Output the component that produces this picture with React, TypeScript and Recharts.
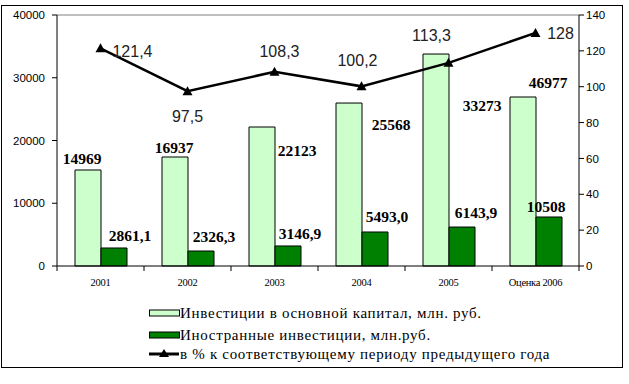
import React from "react";
import {
  Bar,
  ComposedChart,
  LabelList,
  Legend,
  Line,
  ReferenceLine,
  XAxis,
  YAxis,
} from "recharts";

const years = ["2001", "2002", "2003", "2004", "2005", "Оценка 2006"];

// bar heights as drawn in the picture
const capital = [15300, 17370, 22150, 25970, 33780, 26930];
const capitalLabels = ["14969", "16937", "22123", "25568", "33273", "46977"];

const foreign = [2870, 2390, 3190, 5420, 6210, 7810];
const foreignLabels = ["2861,1", "2326,3", "3146,9", "5493,0", "6143,9", "10508"];

const percent = [121.4, 97.5, 108.3, 100.2, 113.3, 130];
const percentLabels = ["121,4", "97,5", "108,3", "100,2", "113,3", "128"];

const leftTicks = [0, 10000, 20000, 30000, 40000];
const rightTicks = [0, 20, 40, 60, 80, 100, 120, 140];

const data = years.map((year, i) => ({
  year,
  capital: capital[i],
  foreign: foreign[i],
  percent: percent[i],
}));

// label placement (Excel put them by hand)
const capitalOffsets = [[-6, -11], [-1, -10], [35, 23], [42, 21], [46, 51], [25, -15]];
const foreignOffsets = [[16, -12], [13, -15], [12, -12], [12, -15], [14, -15], [-3, -10]];
const percentOffsets = [[32, 3], [0, 25], [5, -20], [-4, -26], [-17, -27], [25, 1]];

const LIGHT = "#CCFFCC";
const DARK = "#008000";
const SERIF = '"Liberation Serif"';
const SANS = '"Liberation Sans"';
const BAND = (579 - 57) / years.length;

const barLabel = (labels: string[], offsets: number[][]) => (props: any) => {
  const { x, y, width, index } = props;
  const [dx, dy] = offsets[index];
  return (
    <text
      x={Number(x) + Number(width) / 2 + dx}
      y={Number(y) + dy}
      textAnchor="middle"
      dominantBaseline="central"
      style={{ fontFamily: SERIF, fontWeight: "bold", fontSize: 15.5 }}
      fill="#000"
    >
      {labels[index]}
    </text>
  );
};

const lineLabel = (props: any) => {
  const { x, y, index } = props;
  const [dx, dy] = percentOffsets[index];
  return (
    <text
      x={Number(x) + dx}
      y={Number(y) + dy}
      textAnchor="middle"
      dominantBaseline="central"
      style={{ fontFamily: SANS, fontSize: 16 }}
      fill="#222"
    >
      {percentLabels[index]}
    </text>
  );
};

const Triangle = (props: any) => {
  const { cx, cy } = props;
  if (cx == null || cy == null) return null;
  return (
    <path
      d={`M${cx - 5},${cy + 4} L${cx + 5},${cy + 4} L${cx},${cy - 5} Z`}
      fill="#000"
    />
  );
};

const CategoryTick = (props: any) => {
  const { x, y, payload, index } = props;
  const half = BAND / 2;
  return (
    <g>
      <line x1={x - half} x2={x - half} y1={y} y2={y + 5} stroke="#000" />
      {index === years.length - 1 && (
        <line x1={x + half} x2={x + half} y1={y} y2={y + 5} stroke="#000" />
      )}
      <text
        x={x}
        y={y + 16}
        textAnchor="middle"
        dominantBaseline="central"
        style={{ fontFamily: SERIF, fontSize: 10.5, letterSpacing: -0.3 }}
        fill="#000"
      >
        {payload.value}
      </text>
    </g>
  );
};

const legendItems = [
  { text: "Инвестиции в основной капитал, млн. руб.", kind: "light", y: 10 },
  { text: "Иностранные инвестиции, млн.руб.", kind: "dark", y: 32 },
  { text: "в % к соответствующему периоду предыдущего года", kind: "line", y: 51 },
];

const LegendBox = () => (
  <svg width={430} height={62}>
    {legendItems.map((item) => (
      <g key={item.kind}>
        {item.kind === "line" ? (
          <g>
            <line x1={1} x2={31} y1={item.y} y2={item.y} stroke="#000" strokeWidth={3} />
            <path
              d={`M${11},${item.y + 3} L${21},${item.y + 3} L${16},${item.y - 5} Z`}
              fill="#000"
            />
          </g>
        ) : (
          <rect
            x={1.5}
            y={item.y - 3}
            width={30}
            height={6}
            fill={item.kind === "light" ? LIGHT : DARK}
            stroke="#000"
          />
        )}
        <text
          x={32}
          y={item.y}
          dominantBaseline="central"
          style={{ fontFamily: SERIF, fontSize: 15, letterSpacing: 0.7 }}
          fill="#000"
        >
          {item.text}
        </text>
      </g>
    ))}
  </svg>
);

export default function App() {
  return (
    <div
      style={{
        position: "absolute",
        left: 0,
        top: 0,
        width: 629,
        height: 384,
        background: "#fff",
      }}
    >
      <div
        style={{
          position: "absolute",
          left: 1,
          top: 5,
          width: 622,
          height: 363,
          border: "1px solid #000",
          boxSizing: "border-box",
        }}
      />
      <div style={{ position: "absolute", left: 0, top: 0 }}>
        <ComposedChart
          width={629}
          height={384}
          data={data}
          margin={{ top: 15, right: 0, bottom: 88, left: 0 }}
          barGap={0}
        >
          <XAxis
            dataKey="year"
            height={30}
            axisLine={{ stroke: "#000" }}
            tickLine={false}
            tickSize={0}
            tickMargin={0}
            tick={<CategoryTick />}
            interval={0}
          />
          <YAxis
            yAxisId="left"
            width={57}
            domain={[0, 40000]}
            ticks={leftTicks}
            axisLine={{ stroke: "#000" }}
            tickLine={{ stroke: "#000" }}
            tickSize={5}
            tickMargin={7}
            tick={{ fill: "#000", fontSize: 11.5, style: { fontFamily: SANS } }}
          />
          <YAxis
            yAxisId="right"
            orientation="right"
            width={50}
            domain={[0, 140]}
            ticks={rightTicks}
            axisLine={{ stroke: "#000" }}
            tickLine={{ stroke: "#000" }}
            tickSize={5}
            tickMargin={2}
            tick={{ fill: "#000", fontSize: 11.5, style: { fontFamily: SANS } }}
          />
          <ReferenceLine yAxisId="left" y={40000} stroke="#808080" />
          <Legend
            layout="vertical"
            align="center"
            verticalAlign="middle"
            content={<LegendBox />}
            wrapperStyle={{ left: 148, top: 303, width: 430, height: 62 }}
          />
          <Bar
            yAxisId="left"
            dataKey="capital"
            name="Инвестиции в основной капитал, млн. руб."
            fill={LIGHT}
            stroke="#000"
            strokeWidth={1}
            barSize={26}
            isAnimationActive={false}
          >
            <LabelList dataKey="capital" content={barLabel(capitalLabels, capitalOffsets)} />
          </Bar>
          <Bar
            yAxisId="left"
            dataKey="foreign"
            name="Иностранные инвестиции, млн.руб."
            fill={DARK}
            stroke="#000"
            strokeWidth={1}
            barSize={26}
            isAnimationActive={false}
          >
            <LabelList dataKey="foreign" content={barLabel(foreignLabels, foreignOffsets)} />
          </Bar>
          <Line
            yAxisId="right"
            dataKey="percent"
            name="в % к соответствующему периоду предыдущего года"
            stroke="#000"
            strokeWidth={2.5}
            dot={<Triangle />}
            activeDot={false}
            isAnimationActive={false}
          >
            <LabelList dataKey="percent" content={lineLabel} />
          </Line>
        </ComposedChart>
      </div>
    </div>
  );
}
